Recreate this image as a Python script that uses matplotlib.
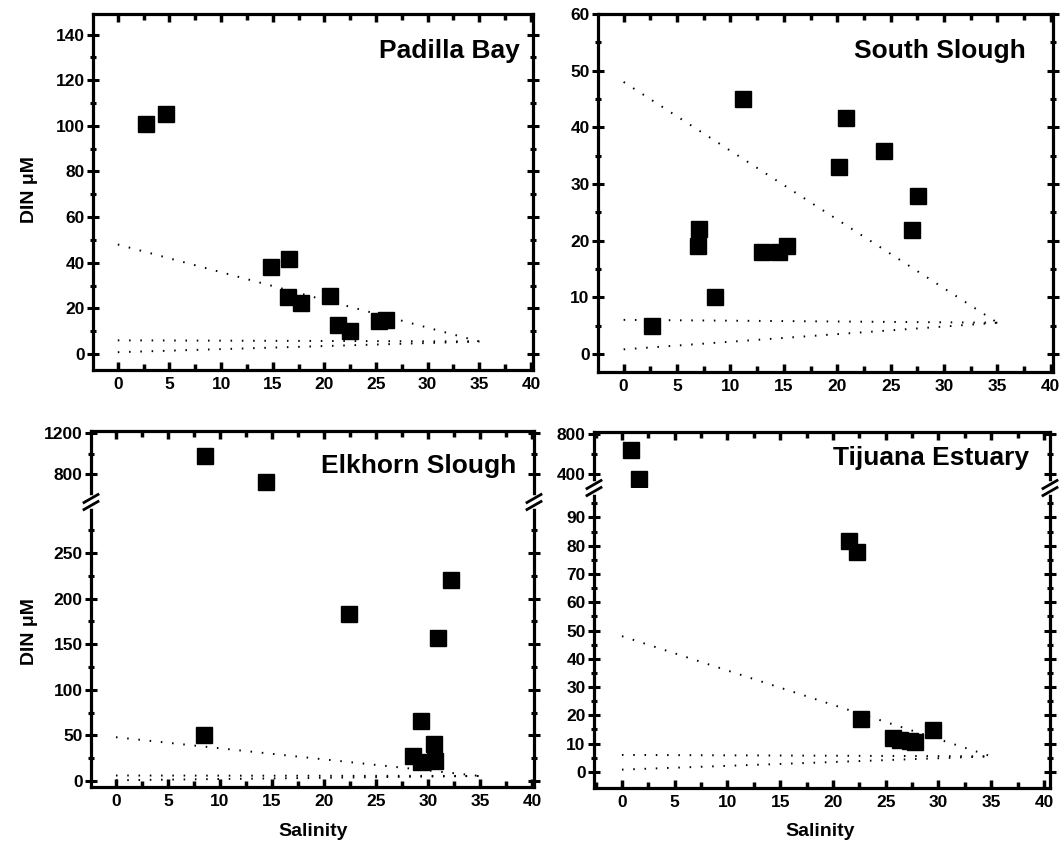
import numpy as np
import matplotlib.pyplot as plt
from matplotlib.ticker import MultipleLocator, FixedLocator

plt.rcParams['font.family'] = ['Liberation Sans', 'DejaVu Sans']
plt.rcParams['font.weight'] = 'bold'

# station data: salinity vs DIN (uM)
padilla_sal = [2.7, 4.7, 14.8, 16.6, 16.5, 17.7, 20.5, 21.3, 22.5, 25.3, 26.0]
padilla_din = [101, 105, 38, 41.5, 25, 22.5, 25.5, 12.5, 10, 14.5, 15]

south_sal = [2.7, 7.0, 7.1, 8.6, 11.2, 13.0, 14.5, 15.3, 20.2, 20.8, 24.4, 27.0, 27.6]
south_din = [5, 19, 22, 10, 45, 18, 18, 19, 33, 41.6, 35.8, 21.8, 27.8]

elkhorn_sal = [8.6, 14.4, 22.4, 32.2, 31.0, 29.3, 8.5, 30.6, 28.6, 29.3, 30.7]
elkhorn_din = [975, 720, 183, 220, 157, 66, 50, 41, 27, 21, 22]

tijuana_sal = [0.9, 1.6, 21.5, 22.3, 22.65, 25.7, 26.35, 27.3, 27.8, 29.5]
tijuana_din = [645, 350, 81.6, 77.7, 18.7, 12.0, 11.3, 10.8, 10.6, 14.8]

# conservative mixing lines (river end member -> ocean end member at S=35)
mix_sal = [0, 35]
mix_lines = [[48, 5.5], [6, 5.5], [0.8, 5.5]]

W, H = 1062, 851
fig = plt.figure(figsize=(W / 100, H / 100), dpi=100)


def rect(l, t, r, b):
    return [l / W, 1 - b / H, (r - l) / W, (b - t) / H]


def style(ax, ymajor, yminor, xlim=(-2.4, 40.2), bottom=True, top=True):
    for s in ax.spines.values():
        s.set_linewidth(2.3)
    ax.set_xlim(*xlim)
    ax.xaxis.set_major_locator(MultipleLocator(5))
    ax.xaxis.set_minor_locator(MultipleLocator(2.5))
    ax.yaxis.set_major_locator(ymajor)
    ax.yaxis.set_minor_locator(yminor)
    ax.tick_params(axis='x', which='both', direction='in', top=top, bottom=bottom,
                   labelbottom=bottom, labelsize=12.5, pad=5, width=2.5)
    ax.tick_params(axis='x', which='major', length=6)
    ax.tick_params(axis='x', which='minor', length=4)
    ax.tick_params(axis='y', which='both', right=True, labelsize=12.5, width=2.2, pad=2)
    ax.tick_params(axis='y', which='major', direction='inout', length=8)
    ax.tick_params(axis='y', which='minor', direction='inout', length=5)


def draw(ax, sal, din):
    for ys in mix_lines:
        ax.plot(mix_sal, ys, color='black', lw=1.4, ls=(0, (0.8, 5.0)))
    ax.plot(sal, din, 's', color='black', ms=11, ls='none')


def join_broken(lo, up):
    # hide the inner spines and put a double slash across the outer ones
    up.spines['bottom'].set_visible(False)
    lo.spines['top'].set_visible(False)
    pos = lo.get_position()
    y0 = pos.y1
    for xf in (pos.x0, pos.x1):
        fig.add_artist(plt.Line2D([xf, xf], [y0 - 4 / H, y0 + 4 / H],
                                  color='white', lw=4, zorder=5))
        for off in (-3.5, 3.5):
            dx, dy = 7 / W, 4 / H
            fig.add_artist(plt.Line2D([xf - dx, xf + dx],
                                      [y0 + off / H - dy, y0 + off / H + dy],
                                      color='black', lw=2.0, zorder=6))


# Padilla Bay
ax1 = fig.add_axes(rect(93, 14, 533, 370))
draw(ax1, padilla_sal, padilla_din)
ax1.set_ylim(-7, 149)
style(ax1, MultipleLocator(20), MultipleLocator(10))
ax1.text(0.97, 0.93, 'Padilla Bay', transform=ax1.transAxes, ha='right',
         va='top', fontsize=19, fontweight='bold')

# South Slough
ax2 = fig.add_axes(rect(598, 14, 1053, 372))
draw(ax2, south_sal, south_din)
ax2.set_ylim(-3.2, 60)
style(ax2, MultipleLocator(10), MultipleLocator(5))
ax2.text(0.94, 0.93, 'South Slough', transform=ax2.transAxes, ha='right',
         va='top', fontsize=19, fontweight='bold')

# Elkhorn Slough, broken y axis
ax3u = fig.add_axes(rect(91, 431, 534, 502))
ax3 = fig.add_axes(rect(91, 502, 534, 787))
draw(ax3u, elkhorn_sal, elkhorn_din)
draw(ax3, elkhorn_sal, elkhorn_din)
ax3u.set_ylim(527, 1220)
ax3.set_ylim(-6.6, 306)
style(ax3u, FixedLocator([800, 1200]), FixedLocator([1000]), bottom=False)
style(ax3, FixedLocator(np.arange(0, 251, 50)), FixedLocator(np.arange(25, 301, 50)),
      top=False)
join_broken(ax3, ax3u)
ax3u.text(0.96, 0.68, 'Elkhorn Slough', transform=ax3u.transAxes, ha='right',
          va='top', fontsize=19, fontweight='bold')

# Tijuana Estuary, broken y axis
tj_xlim = (-2.65, 40.57)
ax4u = fig.add_axes(rect(594, 432, 1050, 488))
ax4 = fig.add_axes(rect(594, 488, 1050, 788))
draw(ax4u, tijuana_sal, tijuana_din)
draw(ax4, tijuana_sal, tijuana_din)
ax4u.set_ylim(260, 820)
ax4.set_ylim(-5.7, 100.4)
style(ax4u, FixedLocator([400, 800]), FixedLocator([600]), xlim=tj_xlim, bottom=False)
style(ax4, FixedLocator(np.arange(0, 91, 10)), FixedLocator(np.arange(5, 100, 10)),
      xlim=tj_xlim, top=False)
join_broken(ax4, ax4u)
ax4u.text(0.955, 0.75, 'Tijuana Estuary', transform=ax4u.transAxes, ha='right',
          va='top', fontsize=19, fontweight='bold')

for yc in (190, 632):
    fig.text(30 / W, 1 - yc / H, 'DIN μM', rotation=90, ha='center', va='center',
             fontsize=14, fontweight='bold')
for xc in (313, 820):
    fig.text(xc / W, 1 - 831 / H, 'Salinity', ha='center', va='center',
             fontsize=14, fontweight='bold')

fig.savefig('out.png', dpi=100, facecolor='white')
